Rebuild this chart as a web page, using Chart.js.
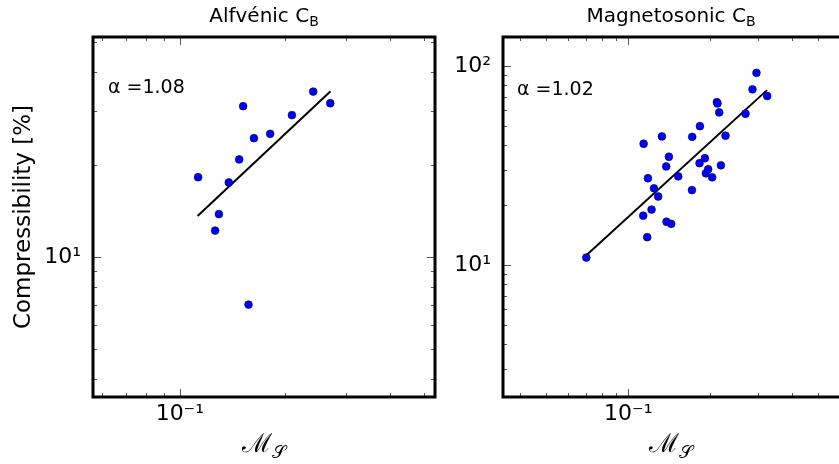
<!DOCTYPE html>
<html>
<head>
<meta charset="utf-8">
<script src="https://cdn.jsdelivr.net/npm/chart.js@4.4.0/dist/chart.umd.min.js"></script>
<style>
  html, body { margin: 0; padding: 0; background: #fff; width: 839px; height: 464px; overflow: hidden; position: relative; }
  canvas { position: absolute; top: 0; }
  #left { left: 0; }
  #right { left: 448px; }
</style>
</head>
<body>
<canvas id="left" width="440" height="464"></canvas>
<canvas id="right" width="410" height="464"></canvas>
<script>
// Alfvénic panel: sonic Mach number vs compressibility
const alfMs   = [0.1128, 0.1294, 0.1262, 0.1381, 0.1479, 0.1518, 0.1630, 0.1814, 0.2094, 0.2410, 0.2697, 0.1573];
const alfComp = [18.2, 13.8, 12.2, 17.5, 20.8, 31.0, 24.4, 25.2, 29.0, 34.6, 31.7, 7.0];
const alfFitMs   = [0.1124, 0.2702];
const alfFitComp = [13.6, 34.7];

// Magnetosonic panel
const magMs   = [0.0701, 0.1139, 0.1181, 0.1243, 0.1289, 0.1218, 0.1135, 0.1174, 0.1330, 0.1379,
                 0.1411, 0.1527, 0.1383, 0.1439, 0.1719, 0.1715, 0.1835, 0.1829, 0.1914, 0.1930,
                 0.1968, 0.2036, 0.2119, 0.2130, 0.2161, 0.2192, 0.2279, 0.2700, 0.2864, 0.2963, 0.3245];
const magComp = [10.9, 40.7, 27.3, 24.3, 22.1, 19.0, 17.7, 13.8, 44.3, 31.3,
                 35.0, 27.9, 16.5, 16.1, 44.1, 23.8, 49.9, 32.5, 34.4, 28.9,
                 30.3, 27.6, 65.9, 64.9, 58.5, 31.7, 44.7, 57.6, 76.4, 92.5, 70.7];
const magFitMs   = [0.0701, 0.3240];
const magFitComp = [11.2, 75.7];

// tick positions (log axes) and labels of the decades
const alfXTicks = [0.06, 0.07, 0.08, 0.09, 0.1, 0.2, 0.3, 0.4, 0.5];
const alfYTicks = [4, 5, 6, 7, 8, 9, 10, 20, 30, 40, 50];
const magXTicks = [0.04, 0.05, 0.06, 0.07, 0.08, 0.09, 0.1, 0.2, 0.3, 0.4, 0.5, 0.6];
const magYTicks = [3, 4, 5, 6, 7, 8, 9, 10, 20, 30, 40, 50, 60, 70, 80, 90, 100];
const decadeValues = [0.1, 10, 100];
const decadeLabels = ['10\u207B\u00B9', '10\u00B9', '10\u00B2'];

const FONT = "'DejaVu Sans', sans-serif";

function decadeLabel(v) {
    const i = decadeValues.indexOf(v);
    return i >= 0 ? decadeLabels[i] : '';
}

function drawSub(ctx, main, sub, cx, y, size, font) {
    ctx.font = `${size}px ${font}`;
    const w1 = ctx.measureText(main).width;
    ctx.font = `${size * 0.7}px ${font}`;
    const w2 = ctx.measureText(sub).width;
    const x0 = cx - (w1 + w2) / 2;
    ctx.textAlign = 'left';
    ctx.textBaseline = 'alphabetic';
    ctx.font = `${size}px ${font}`;
    ctx.fillText(main, x0, y);
    ctx.font = `${size * 0.7}px ${font}`;
    ctx.fillText(sub, x0 + w1, y + size * 0.22);
}

// box, inward ticks and text annotations
const framePlugin = {
    id: 'frame',
    afterDraw(chart, args, opts) {
        const { ctx, chartArea: a } = chart;
        const xs = chart.scales.x, ys = chart.scales.y;
        ctx.save();
        ctx.strokeStyle = '#555';
        ctx.lineWidth = 1;
        ctx.beginPath();
        xs.ticks.forEach(t => {
            const len = decadeLabel(t.value) ? 8 : 4;
            const px = Math.round(xs.getPixelForValue(t.value)) + 0.5;
            ctx.moveTo(px, a.bottom); ctx.lineTo(px, a.bottom - len);
            ctx.moveTo(px, a.top); ctx.lineTo(px, a.top + len);
        });
        ys.ticks.forEach(t => {
            const len = decadeLabel(t.value) ? 8 : 4;
            const py = Math.round(ys.getPixelForValue(t.value)) + 0.5;
            ctx.moveTo(a.left, py); ctx.lineTo(a.left + len, py);
            ctx.moveTo(a.right, py); ctx.lineTo(a.right - len, py);
        });
        ctx.stroke();

        ctx.strokeStyle = '#000';
        ctx.lineWidth = 3;
        ctx.strokeRect(a.left, a.top, a.right - a.left, a.bottom - a.top);

        ctx.fillStyle = '#000';
        const cx = (a.left + a.right) / 2 + (opts.titleShift || 0);
        drawSub(ctx, opts.title, 'B', cx, 22, 20, FONT);

        ctx.font = `19px ${FONT}`;
        ctx.textAlign = 'left';
        ctx.textBaseline = 'middle';
        ctx.fillText(opts.alpha, opts.alphaX, opts.alphaY);

        // x axis label: script M with script S subscript
        drawSub(ctx, '\u2133', '\uD835\uDCAE', cx, 452, 26, "'DejaVu Serif', serif");

        if (opts.ylabel) {
            ctx.save();
            ctx.translate(24, (a.top + a.bottom) / 2);
            ctx.rotate(-Math.PI / 2);
            ctx.font = `23px ${FONT}`;
            ctx.textAlign = 'center';
            ctx.textBaseline = 'middle';
            ctx.fillText(opts.ylabel, 0, 0);
            ctx.restore();
        }
        ctx.restore();
    }
};

function makePanel(id, ms, comp, fitMs, fitComp, xTicks, yTicks, xr, yr, yWidth, padRight, frame) {
    return new Chart(document.getElementById(id), {
        type: 'scatter',
        data: {
            datasets: [{
                data: ms.map((v, i) => ({ x: v, y: comp[i] })),
                backgroundColor: '#0000ff',
                borderColor: '#000040',
                borderWidth: 0.6,
                pointRadius: 3.9
            }, {
                type: 'line',
                data: fitMs.map((v, i) => ({ x: v, y: fitComp[i] })),
                borderColor: '#000',
                borderWidth: 2,
                pointRadius: 0,
                fill: false
            }]
        },
        options: {
            responsive: false,
            animation: false,
            layout: { padding: { top: 37, right: padRight, bottom: 0, left: 0 } },
            plugins: { legend: { display: false }, tooltip: { enabled: false }, frame: frame },
            scales: {
                x: {
                    type: 'logarithmic',
                    min: xr[0], max: xr[1],
                    grid: { display: false, drawTicks: false },
                    border: { display: false },
                    afterBuildTicks: s => { s.ticks = xTicks.map(v => ({ value: v })); },
                    afterFit: s => { s.height = 67; },
                    ticks: {
                        autoSkip: false, maxRotation: 0, padding: 4,
                        color: '#000', font: { family: FONT, size: 22 },
                        callback: v => decadeLabel(v)
                    }
                },
                y: {
                    type: 'logarithmic',
                    min: yr[0], max: yr[1],
                    grid: { display: false, drawTicks: false },
                    border: { display: false },
                    afterBuildTicks: s => { s.ticks = yTicks.map(v => ({ value: v })); },
                    afterFit: s => { s.width = yWidth; },
                    ticks: {
                        autoSkip: false, padding: 12,
                        color: '#000', font: { family: FONT, size: 22 },
                        callback: v => decadeLabel(v)
                    }
                }
            }
        },
        plugins: [framePlugin]
    });
}

makePanel('left', alfMs, alfComp, alfFitMs, alfFitComp, alfXTicks, alfYTicks,
    [0.0564, 0.538], [3.5, 52.1], 93, 5,
    { title: 'Alfvénic C', alpha: 'α =1.08', alphaX: 108, alphaY: 88, ylabel: 'Compressibility [%]' });

makePanel('right', magMs, magComp, magFitMs, magFitComp, magXTicks, magYTicks,
    [0.0346, 0.638], [2.17, 140], 55, 11,
    { title: 'Magnetosonic C', titleShift: -4, alpha: 'α =1.02', alphaX: 69, alphaY: 90 });
</script>
</body>
</html>
